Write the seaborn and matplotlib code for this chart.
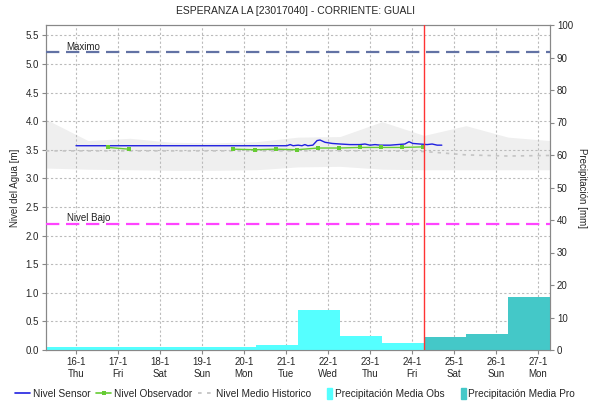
import matplotlib
matplotlib.use("Agg")
import matplotlib.pyplot as plt
import seaborn as sns
import pandas as pd
import numpy as np
from matplotlib.lines import Line2D
from matplotlib.patches import Patch, Rectangle
from matplotlib.legend_handler import HandlerPatch

# days of january (numeric), ticks at 00:00
tick_days = [16, 17, 18, 19, 20, 21, 22, 23, 24, 25, 26, 27]
tick_names = ['Thu', 'Fri', 'Sat', 'Sun', 'Mon', 'Tue', 'Wed', 'Thu', 'Fri', 'Sat', 'Sun', 'Mon']
x_start = 15.286
x_end = 27.286
now_day = 24.286

# historical band (daily at 07:00)
hist_days = [15.286, 16.286, 17.286, 18.286, 19.286, 20.286, 21.286, 22.286, 23.286, 24.286, 25.286, 26.286, 27.286]
hist_upper = [4.03, 3.66, 3.70, 3.63, 3.62, 3.64, 3.72, 3.73, 3.99, 3.75, 3.92, 3.72, 3.66]
hist_lower = [3.18, 3.16, 3.15, 3.14, 3.14, 3.15, 3.20, 3.21, 3.16, 3.15, 3.15, 3.15, 3.15]
hist_mean = [3.48, 3.48, 3.48, 3.48, 3.48, 3.48, 3.48, 3.48, 3.48, 3.47, 3.41, 3.39, 3.40]

# sensor level
sensor_days = [16.0, 21.02, 21.10, 21.17, 21.29, 21.38, 21.45, 21.52, 21.64, 21.74, 21.81,
               21.93, 22.10, 22.29, 22.52, 22.76, 22.88, 23.0, 23.12, 23.24, 23.48,
               23.83, 23.93, 24.02, 24.19, 24.36, 24.48, 24.60, 24.71]
sensor_level = [3.57, 3.57, 3.59, 3.57, 3.58, 3.57, 3.59, 3.57, 3.58, 3.66, 3.67,
                3.63, 3.61, 3.60, 3.59, 3.59, 3.60, 3.58, 3.59, 3.58, 3.58,
                3.60, 3.64, 3.61, 3.60, 3.59, 3.60, 3.58, 3.58]

# observer level (two reading periods)
obs_days = [16.76, 17.26, 19.74, 20.26, 20.76, 21.26, 21.76, 22.26, 22.76, 23.26, 23.76, 24.26]
obs_level = [3.54, 3.51, 3.51, 3.50, 3.51, 3.50, 3.53, 3.53, 3.54, 3.54, 3.54, 3.55]
obs_group = [0, 0, 1, 1, 1, 1, 1, 1, 1, 1, 1, 1]

# precipitation (daily bars starting 07:00)
obs_rain_start = [15.286, 16.286, 17.286, 18.286, 19.286, 20.286, 21.286, 22.286, 23.286]
obs_rain = [0.8, 0.8, 0.8, 0.8, 0.8, 1.5, 12.4, 4.4, 2.2]
pro_rain_start = [24.286, 25.286, 26.286]
pro_rain = [3.9, 5.0, 16.4]

nivel_max = 5.2
nivel_bajo = 2.2

sns.set_style("white")
plt.rcParams['font.family'] = ['Liberation Sans', 'DejaVu Sans']

fig = plt.figure(figsize=(5.9, 4.04), dpi=100)
pos = [46 / 590, 54 / 404, 504 / 590, 325 / 404]
ax = fig.add_axes(pos)
ax2 = ax.twinx()
ax3 = fig.add_axes(pos, sharex=ax, sharey=ax)
ax.set_zorder(0)
ax2.set_zorder(1)
ax3.set_zorder(2)
ax2.patch.set_visible(False)
ax3.patch.set_visible(False)
ax3.axis('off')

grid_kw = dict(color='#BBBBBB', linestyle=(0, (2, 2)), linewidth=0.8)

# bottom layer: band + grid
ax.fill_between(hist_days, hist_lower, hist_upper, color='#EFEFEF', linewidth=0, zorder=1)
for d in tick_days:
    ax.axvline(d, zorder=2, **grid_kw)
for v in np.arange(0.5, 5.6, 0.5):
    ax.axhline(v, zorder=2, **grid_kw)

# middle layer: precipitation
ax2.bar(obs_rain_start, obs_rain, width=1.0, align='edge', color='#55FFFF', linewidth=0)
ax2.bar(pro_rain_start, pro_rain, width=1.0, align='edge', color='#44C8C8', linewidth=0)

# top layer: levels
hist_df = pd.DataFrame({'dia': hist_days, 'nivel': hist_mean})
sns.lineplot(data=hist_df, x='dia', y='nivel', ax=ax3, color='#C4C4C4',
             linestyle=(0, (2, 3)), linewidth=1.2, legend=False)
ax3.axhline(nivel_max, color='#6272A4', linestyle=(0, (6, 3)), linewidth=1.6)
ax3.axhline(nivel_bajo, color='#FF44FF', linestyle=(0, (6, 3)), linewidth=1.6)
ax3.text(15.78, nivel_max + 0.05, 'Maximo', fontsize=7, color='#222222')
ax3.text(15.78, nivel_bajo + 0.05, 'Nivel Bajo', fontsize=7, color='#222222')

sensor_df = pd.DataFrame({'dia': sensor_days, 'nivel': sensor_level})
sns.lineplot(data=sensor_df, x='dia', y='nivel', ax=ax3, color='#2020E0',
             linewidth=1.0, estimator=None, sort=False, legend=False)
obs_df = pd.DataFrame({'dia': obs_days, 'nivel': obs_level, 'grupo': obs_group})
sns.lineplot(data=obs_df, x='dia', y='nivel', units='grupo', ax=ax3, color='#66CC33',
             linewidth=1.0, estimator=None, marker='s', markersize=3.5,
             markeredgewidth=0, legend=False)
ax3.axvline(now_day, color='#FF3333', linewidth=1.0)

ax.set_xlim(x_start, x_end)
ax.set_ylim(0, 5.68)
ax2.set_ylim(0, 100)
ax.set_xticks(tick_days)
ax.set_xticklabels([f'{d}-1\n{n}' for d, n in zip(tick_days, tick_names)], fontsize=7)
ax.set_yticks(np.arange(0, 5.6, 0.5))
ax.set_yticklabels([f'{v:.1f}' for v in np.arange(0, 5.6, 0.5)], fontsize=7)
ax2.set_yticks(range(0, 101, 10))
ax2.set_yticklabels([str(v) for v in range(0, 101, 10)], fontsize=7)
ax.set_xlabel('')
ax3.set_xlabel('')
ax3.set_ylabel('')
ax.set_ylabel('Nivel del Agua [m]', fontsize=7)
ax2.set_ylabel('Precipitación [mm]', fontsize=7, rotation=270, labelpad=10)
ax.tick_params(axis='both', length=3, width=0.8, color='#888888', pad=2, direction='out', left=True, bottom=True)
ax2.tick_params(axis='y', length=3, width=0.8, color='#888888', pad=2, direction='out', right=True)
for a in (ax, ax2):
    for s in a.spines.values():
        s.set_color('#888888')
        s.set_linewidth(0.8)

fig.suptitle('ESPERANZA LA [23017040] - CORRIENTE: GUALI', fontsize=7.5, y=0.985)


def narrow_patch(legend, orig_handle, xdescent, ydescent, width, height, fontsize):
    w = width * 0.35
    return Rectangle((width - w - xdescent, -ydescent - 1), w, height + 2)


handles = [
    Line2D([], [], color='#2020E0', linewidth=1.2),
    Line2D([], [], color='#66CC33', linewidth=1.2, marker='s', markersize=3, markeredgewidth=0),
    Line2D([], [], color='#C4C4C4', linestyle=(0, (2, 3)), linewidth=1.3),
    Patch(color='#55FFFF'),
    Patch(color='#44C8C8'),
]
labels = ['Nivel Sensor', 'Nivel Observador', 'Nivel Medio Historico',
          'Precipitación Media Obs', 'Precipitación Media Pro']
fig.legend(handles, labels, loc='center', bbox_to_anchor=(0.5, 0.025), ncol=5,
           frameon=False, fontsize=7.3, handlelength=1.5, handletextpad=0.25,
           columnspacing=0.6, handleheight=0.9, borderpad=0.1,
           handler_map={Patch: HandlerPatch(patch_func=narrow_patch)})

fig.savefig('out.png', dpi=100)
